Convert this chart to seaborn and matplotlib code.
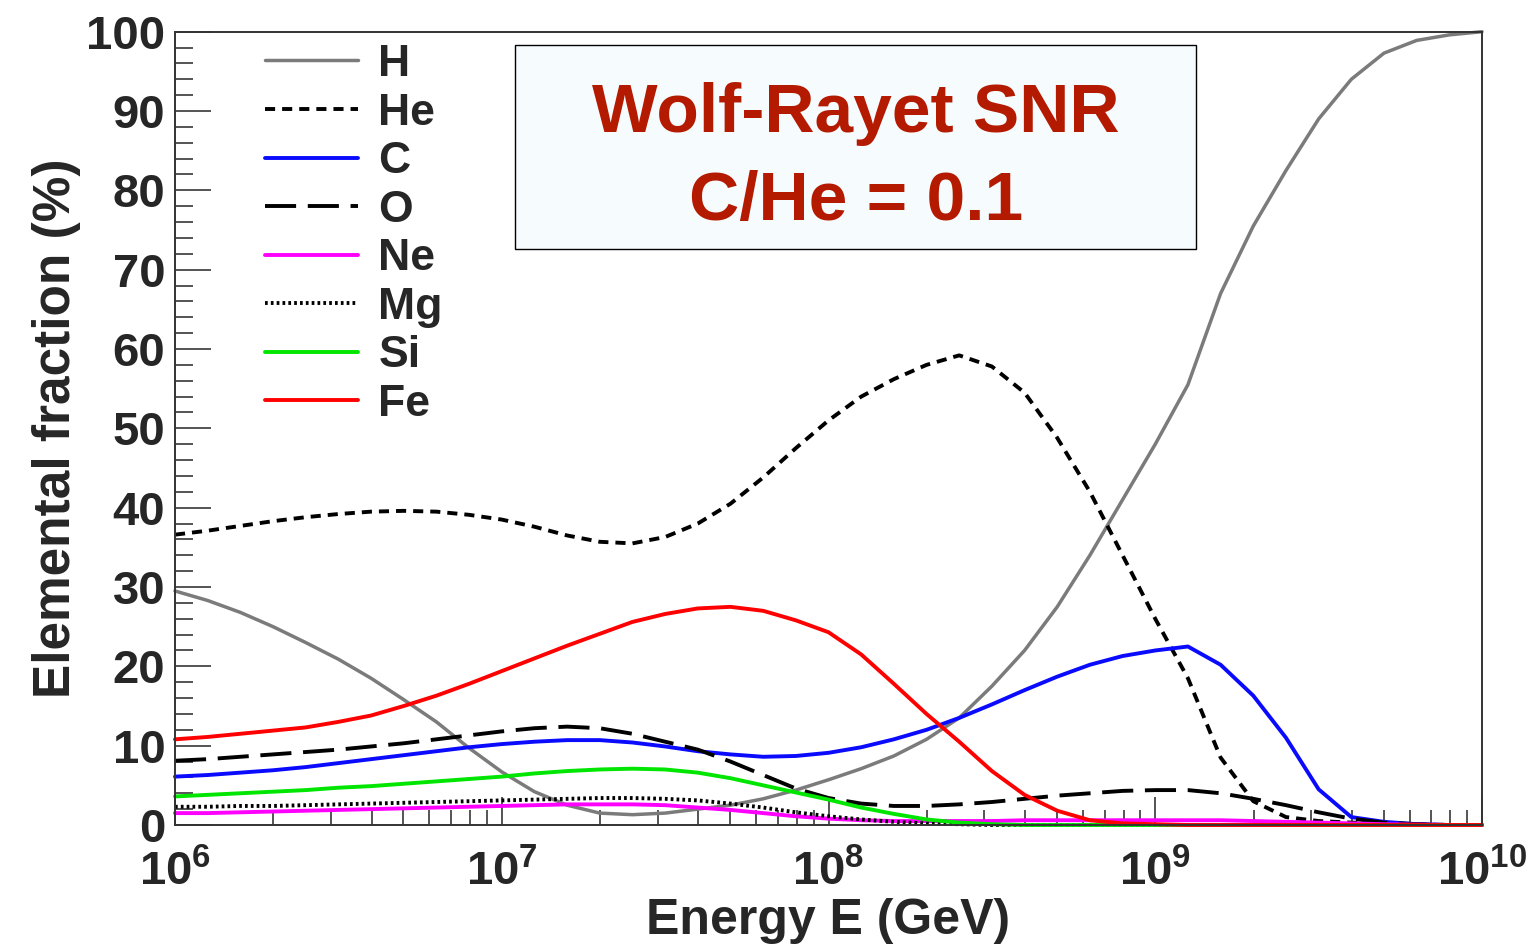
import numpy as np
import pandas as pd
import matplotlib.pyplot as plt
import seaborn as sns
from matplotlib.patches import Rectangle
from matplotlib.ticker import LogLocator, NullFormatter, MultipleLocator

# Chart values (log10 of energy in GeV, fractions in %)
log_energy = [6.0, 6.1, 6.2, 6.3, 6.4, 6.5, 6.6, 6.7, 6.8, 6.9,
              7.0, 7.1, 7.2, 7.3, 7.4, 7.5, 7.6, 7.7, 7.8, 7.9,
              8.0, 8.1, 8.2, 8.3, 8.4, 8.5, 8.6, 8.7, 8.8, 8.9,
              9.0, 9.1, 9.2, 9.3, 9.4, 9.5, 9.6, 9.7, 9.8, 9.9, 10.0]

frac_h = [29.5, 28.3, 26.8, 25.0, 23.0, 20.9, 18.5, 15.8, 13.0, 9.7,
          6.7, 4.2, 2.5, 1.5, 1.3, 1.5, 2.0, 2.5, 3.3, 4.4,
          5.7, 7.1, 8.7, 10.8, 13.5, 17.5, 22.0, 27.5, 34.0, 41.0,
          48.0, 55.5, 67.0, 75.5, 82.5, 89.0, 94.0, 97.3, 98.9, 99.6, 100.0]

frac_he = [36.6, 37.1, 37.7, 38.3, 38.8, 39.2, 39.5, 39.6, 39.5, 39.1,
           38.5, 37.6, 36.5, 35.7, 35.5, 36.3, 38.0, 40.5, 43.8, 47.5,
           51.0, 54.0, 56.2, 58.0, 59.2, 57.8, 54.5, 48.8, 42.0, 34.0,
           26.0, 18.5, 8.5, 3.0, 1.0, 0.5, 0.3, 0.2, 0.1, 0.0, 0.0]

frac_c = [6.1, 6.3, 6.6, 6.9, 7.3, 7.8, 8.3, 8.8, 9.3, 9.8,
          10.2, 10.5, 10.7, 10.7, 10.4, 9.9, 9.3, 8.9, 8.6, 8.7,
          9.1, 9.8, 10.8, 12.0, 13.5, 15.2, 17.0, 18.7, 20.2, 21.3,
          22.0, 22.5, 20.2, 16.3, 11.0, 4.5, 1.0, 0.4, 0.1, 0.0, 0.0]

frac_o = [8.1, 8.3, 8.6, 8.9, 9.2, 9.5, 9.9, 10.3, 10.8, 11.3,
          11.8, 12.2, 12.4, 12.2, 11.5, 10.5, 9.5, 8.0, 6.3, 4.6,
          3.4, 2.7, 2.4, 2.4, 2.6, 2.9, 3.3, 3.7, 4.0, 4.3,
          4.4, 4.4, 4.0, 3.3, 2.5, 1.6, 0.8, 0.3, 0.1, 0.0, 0.0]

frac_ne = [1.5, 1.5, 1.6, 1.7, 1.8, 1.9, 2.0, 2.1, 2.2, 2.3,
           2.4, 2.5, 2.6, 2.6, 2.6, 2.5, 2.2, 1.9, 1.5, 1.1,
           0.8, 0.6, 0.5, 0.5, 0.5, 0.5, 0.6, 0.6, 0.6, 0.6,
           0.6, 0.6, 0.6, 0.5, 0.4, 0.3, 0.2, 0.1, 0.05, 0.0, 0.0]

frac_mg = [2.3, 2.3, 2.4, 2.4, 2.5, 2.6, 2.7, 2.8, 2.9, 3.0,
           3.1, 3.2, 3.3, 3.4, 3.4, 3.3, 3.1, 2.7, 2.2, 1.6,
           1.1, 0.7, 0.4, 0.2, 0.1, 0.0, 0.0, 0.0, 0.0, 0.0,
           0.0, 0.0, 0.0, 0.0, 0.0, 0.0, 0.0, 0.0, 0.0, 0.0, 0.0]

frac_si = [3.6, 3.8, 4.0, 4.2, 4.4, 4.7, 4.9, 5.2, 5.5, 5.8,
           6.1, 6.5, 6.8, 7.0, 7.1, 7.0, 6.6, 5.9, 5.0, 4.1,
           3.2, 2.2, 1.4, 0.7, 0.3, 0.1, 0.0, 0.0, 0.0, 0.0,
           0.0, 0.0, 0.0, 0.0, 0.0, 0.0, 0.0, 0.0, 0.0, 0.0, 0.0]

frac_fe = [10.8, 11.1, 11.5, 11.9, 12.3, 13.0, 13.8, 15.0, 16.3, 17.8,
           19.4, 21.0, 22.6, 24.1, 25.6, 26.6, 27.3, 27.5, 27.0, 25.8,
           24.3, 21.5, 17.8, 14.0, 10.5, 6.8, 3.8, 1.8, 0.6, 0.2,
           0.1, 0.0, 0.0, 0.0, 0.0, 0.0, 0.0, 0.0, 0.0, 0.0, 0.0]

elements = ['H', 'He', 'C', 'O', 'Ne', 'Mg', 'Si', 'Fe']
y_ticks = [0, 10, 20, 30, 40, 50, 60, 70, 80, 90, 100]
x_decades = [6, 7, 8, 9, 10]

#%%

# Build a long-form dataframe
energy = 10 ** np.array(log_energy)
frac_df = pd.DataFrame({'energy': energy,
                        'H': frac_h, 'He': frac_he, 'C': frac_c, 'O': frac_o,
                        'Ne': frac_ne, 'Mg': frac_mg, 'Si': frac_si, 'Fe': frac_fe})
frac_long = frac_df.melt(id_vars='energy', var_name='element', value_name='fraction')

# Line styles per element
colors = {'H': '#7b7b7b', 'He': 'black', 'C': '#0a0aff', 'O': 'black',
          'Ne': '#ff00ff', 'Mg': 'black', 'Si': '#00e600', 'Fe': '#ff0000'}
styles = {'H': '-', 'He': (0, (2.6, 1.8)), 'C': '-', 'O': (0, (8.0, 3.0)),
          'Ne': '-', 'Mg': (0, (0.7, 0.8)), 'Si': '-', 'Fe': '-'}
widths = {'H': 2.5, 'He': 2.8, 'C': 2.8, 'O': 2.8,
          'Ne': 2.8, 'Mg': 2.8, 'Si': 2.8, 'Fe': 2.8}

#%%

sns.set_style('white')
plt.rcParams['font.family'] = ['Liberation Sans', 'DejaVu Sans']
plt.rcParams['font.weight'] = 'bold'
plt.rcParams['mathtext.fontset'] = 'custom'
plt.rcParams['mathtext.rm'] = 'Liberation Sans:bold'
plt.rcParams['mathtext.bf'] = 'Liberation Sans:bold'
plt.rcParams['mathtext.default'] = 'rm'

fig = plt.figure(figsize=(15.36, 9.51), dpi=100)
ax = fig.add_axes([175 / 1536, 1 - 825 / 951, (1482 - 175) / 1536, (825 - 31.7) / 951])

# Draw every element
for el in elements:
    sub = frac_long[frac_long['element'] == el]
    sns.lineplot(data=sub, x='energy', y='fraction', ax=ax, color=colors[el],
                 linestyle=styles[el], lw=widths[el], label=el, legend=False,
                 clip_on=False)

# Axes scales and limits
ax.set_xscale('log')
ax.set_xlim(1e6, 1e10)
ax.set_ylim(0, 100)

# Ticks (ROOT style, inside)
ax.set_xticks([10.0 ** d for d in x_decades])
ax.set_xticklabels([r'$10^{%d}$' % d for d in x_decades])
ax.xaxis.set_minor_locator(LogLocator(base=10, subs=np.arange(2, 10)))
ax.xaxis.set_minor_formatter(NullFormatter())
ax.set_yticks(y_ticks)
ax.set_yticklabels([str(v) for v in y_ticks])
ax.yaxis.set_minor_locator(MultipleLocator(2))

ax.tick_params(axis='y', which='major', direction='in', length=26, width=1.1,
               labelsize=34, pad=7, left=True, right=False)
ax.tick_params(axis='y', which='minor', direction='in', length=13, width=1.1,
               left=True, right=False)
ax.tick_params(axis='x', which='major', direction='in', length=20, width=1.1,
               labelsize=34, pad=18, bottom=True, top=False)
ax.tick_params(axis='x', which='minor', direction='in', length=11, width=1.1,
               bottom=True, top=False)

for spine in ax.spines.values():
    spine.set_linewidth(1.4)
    spine.set_color('#333333')

# Axis labels
ax.set_xlabel('Energy E (GeV)', fontsize=36, fontweight='bold', labelpad=2)
ax.set_ylabel('Elemental fraction (%)', fontsize=37, fontweight='bold', labelpad=4)

# Legend
ax.legend(loc='upper left', bbox_to_anchor=(265 / 1536, 1 - 44 / 951),
          bbox_transform=fig.transFigure, frameon=False, borderpad=0,
          borderaxespad=0, handlelength=2.1, handletextpad=0.45,
          labelspacing=0.17, prop={'size': 32, 'weight': 'bold'})

# Title box
box = Rectangle((515 / 1536, 1 - 249 / 951), (1196 - 515) / 1536, (249 - 45) / 951,
                transform=fig.transFigure, facecolor='#f6fbfd', edgecolor='black',
                lw=1.0, zorder=3)
fig.add_artist(box)
fig.text(856 / 1536, 1 - 132 / 951, 'Wolf-Rayet SNR', ha='center', va='baseline',
         fontsize=50, fontweight='bold', color='#b41a00', zorder=4)
fig.text(856 / 1536, 1 - 220 / 951, 'C/He = 0.1', ha='center', va='baseline',
         fontsize=50, fontweight='bold', color='#b41a00', zorder=4)

fig.savefig('out.png', dpi=100, facecolor='white')
